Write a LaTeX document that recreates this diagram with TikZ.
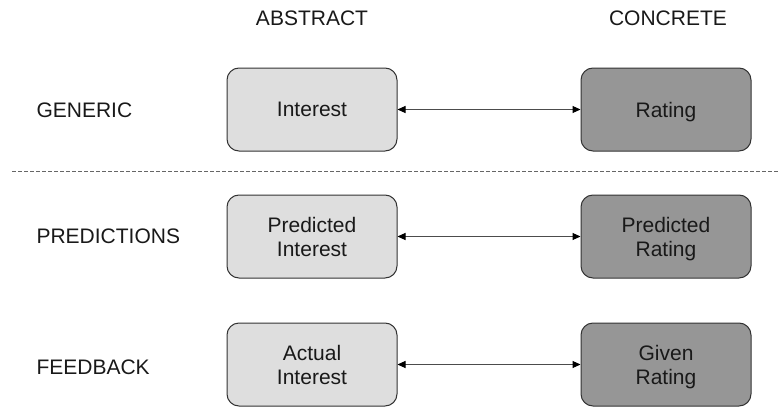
\documentclass[tikz,border=0pt]{standalone}
\usepackage{fontspec}
\setmainfont{Liberation Sans}
\usetikzlibrary{arrows.meta}
\begin{document}
\begin{tikzpicture}[x=1pt,y=-1pt,
  lbl/.style={font=\fontsize{21}{24}\selectfont, text=black!90},
  absbox/.style={draw=black!80, line width=1pt, rounded corners=12pt, fill=black!13,
    minimum width=170pt, minimum height=83pt, inner sep=0pt, align=center,
    text depth=-5pt,
    font=\fontsize{21}{24}\selectfont, text=black!90},
  conbox/.style={absbox, fill=black!41},
  link/.style={draw=black!70, line width=1pt, {Triangle[length=8pt,width=7pt,fill=black,color=black]}-{Triangle[length=8pt,width=7pt,fill=black,color=black]}},
  sep/.style={draw=black!60, line width=0.8pt, dash pattern=on 4pt off 2pt}]
\useasboundingbox (0,0) rectangle (780,407);
% headers
\node[lbl] (habs) at (312,18.5) {ABSTRACT};
\node[lbl] (hcon) at (668,18.5) {CONCRETE};
% row labels
\node[lbl, anchor=west] (rgen) at (33,110.5) {GENERIC};
\node[lbl, anchor=west] (rpred) at (33,236.5) {PREDICTIONS};
\node[lbl, anchor=west] (rfeed) at (33,367) {FEEDBACK};
% separator
\coordinate (sl) at (12,171);
\coordinate (sr) at (780,171);
\draw[sep] (sl) -- (sr);
% boxes
\node[absbox] (a1) at (312,109.5) {Interest};
\node[conbox] (c1) at (666,109.5) {Rating};
\node[absbox] (a2) at (312,236.5) {Predicted\\Interest};
\node[conbox] (c2) at (666,236.5) {Predicted\\Rating};
\node[absbox] (a3) at (312,364.5) {Actual\\Interest};
\node[conbox] (c3) at (666,364.5) {Given\\Rating};
% links
\draw[link] (a1) -- (c1);
\draw[link] (a2) -- (c2);
\draw[link] (a3) -- (c3);
\end{tikzpicture}
\end{document}
